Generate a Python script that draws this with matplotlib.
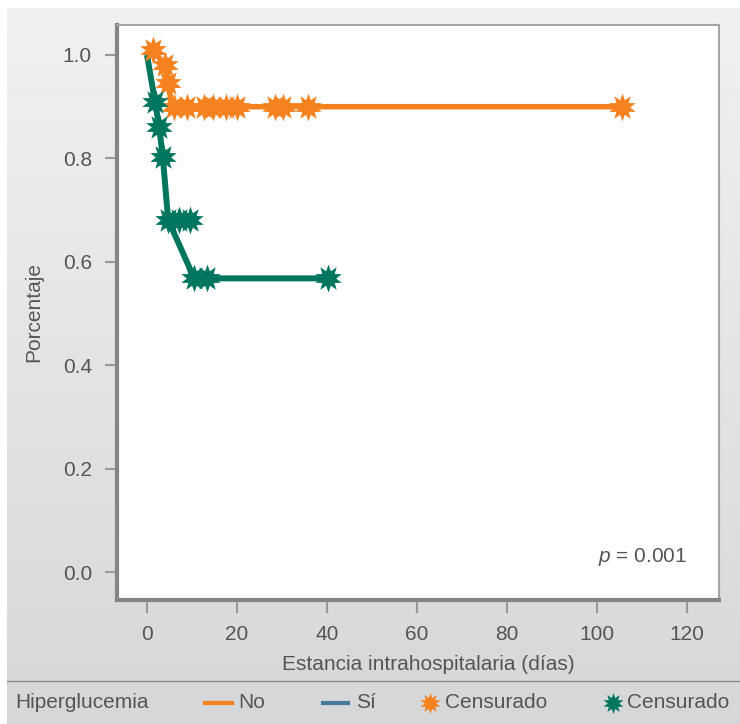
import numpy as np
import matplotlib
matplotlib.use("Agg")
import matplotlib.pyplot as plt
from matplotlib.lines import Line2D
from matplotlib.path import Path

plt.rcParams['font.family'] = ['Liberation Sans', 'DejaVu Sans']
plt.rcParams['mathtext.fontset'] = 'custom'
plt.rcParams['mathtext.it'] = 'Liberation Sans:italic'
plt.rcParams['mathtext.rm'] = 'Liberation Sans'

# Kaplan-Meier curves
no_t = [1.3, 4.0, 4.7, 5.6, 105.6]
no_s = [1.01, 0.98, 0.945, 0.90, 0.90]
no_cens_t = [1.3, 4.0, 4.7, 6.0, 8.9, 12.7, 14.7, 17.6, 20.0, 28.4, 30.2, 35.8, 105.6]
no_cens_s = [1.01, 0.98, 0.945, 0.90, 0.90, 0.90, 0.90, 0.90, 0.90, 0.90, 0.90, 0.90, 0.90]

si_t = [0.0, 1.8, 2.7, 3.5, 4.7, 10.5, 40.3]
si_s = [1.0, 0.909, 0.861, 0.803, 0.681, 0.568, 0.568]
si_cens_t = [1.8, 2.7, 3.5, 4.6, 7.1, 9.6, 10.4, 13.3, 40.3]
si_cens_s = [0.909, 0.861, 0.803, 0.681, 0.681, 0.681, 0.568, 0.568, 0.568]

xticks = [0, 20, 40, 60, 80, 100, 120]
yticks = [0.0, 0.2, 0.4, 0.6, 0.8, 1.0]

orange = '#f5821f'
green = '#00765e'
blue = '#457b99'
txt = '#555555'

star = Path.unit_regular_star(10, 0.55)

W, H = 740, 724
fig = plt.figure(figsize=(W / 100, H / 100), dpi=100)
fig.patch.set_facecolor('white')

# gray gradient background
bg = fig.add_axes([7 / W, 0, 1 - 7 / W, 1 - 8 / H], zorder=-5)
g = np.linspace(0, 1, 256)[:, None]
top = np.array([0.945, 0.945, 0.945])
bot = np.array([0.835, 0.843, 0.851])
img = top[None, None, :] * (1 - g[..., None]) + bot[None, None, :] * g[..., None]
bg.imshow(img, aspect='auto', extent=[0, 1, 0, 1])
bg.axhline(1 - (681 - 8) / (H - 8), color='#8a8a8a', lw=1)
bg.set_xlim(0, 1)
bg.set_ylim(0, 1)
bg.axis('off')

ax = fig.add_axes([117 / W, 1 - 600 / H, (719 - 117) / W, (600 - 25) / H])
ax.set_facecolor('white')

ax.plot(no_t, no_s, color=orange, lw=4, solid_capstyle='butt', zorder=2)
ax.plot(si_t, si_s, color=green, lw=4.3, solid_capstyle='butt', zorder=2)
ax.plot(no_cens_t, no_cens_s, ls='none', marker=star, ms=20,
        color=orange, mew=0, zorder=3)
ax.plot(si_cens_t, si_cens_s, ls='none', marker=star, ms=20,
        color=green, mew=0, zorder=3)

ax.set_xlim(-6.67, 127.1)
ax.set_ylim(-0.054, 1.058)
ax.set_xticks(xticks)
ax.set_yticks(yticks)
ax.set_yticklabels(['%.1f' % v for v in yticks])
ax.tick_params(colors='#999999', labelcolor=txt, labelsize=15, length=9,
               width=1.5, pad=9)

for s in ['left', 'bottom']:
    ax.spines[s].set_color('#858585')
    ax.spines[s].set_linewidth(3)
for s in ['top', 'right']:
    ax.spines[s].set_color('#a5a5a5')
    ax.spines[s].set_linewidth(1.5)

ax.set_xlabel('Estancia intrahospitalaria (días)', fontsize=15, color=txt)
ax.xaxis.set_label_coords(0.517, -0.095)
ax.set_ylabel('Porcentaje', fontsize=15, color=txt, labelpad=14)

ax.text(0.947, 0.074, r'$p$ = 0.001', fontsize=15, color=txt, ha='right',
        va='center', transform=ax.transAxes)

# legend strip
ly = 1 - 703 / H
fig.text(15 / W, ly, 'Hiperglucemia', fontsize=15, color=txt, va='center')
fig.add_artist(Line2D([205 / W, 232 / W], [ly, ly], color=orange, lw=3,
                      transform=fig.transFigure))
fig.text(238 / W, ly, 'No', fontsize=15, color=txt, va='center')
fig.add_artist(Line2D([323 / W, 348 / W], [ly, ly], color=blue, lw=3,
                      transform=fig.transFigure))
fig.text(356 / W, ly, 'Sí', fontsize=15, color=txt, va='center')
fig.add_artist(Line2D([430 / W], [ly], marker=star, ms=15, color=orange,
                      mew=0, ls='none', transform=fig.transFigure))
fig.text(445 / W, ly, 'Censurado', fontsize=15, color=txt, va='center')
fig.add_artist(Line2D([613 / W], [ly], marker=star, ms=15, color=green,
                      mew=0, ls='none', transform=fig.transFigure))
fig.text(627 / W, ly, 'Censurado', fontsize=15, color=txt, va='center')

fig.savefig('out.png', dpi=100)
